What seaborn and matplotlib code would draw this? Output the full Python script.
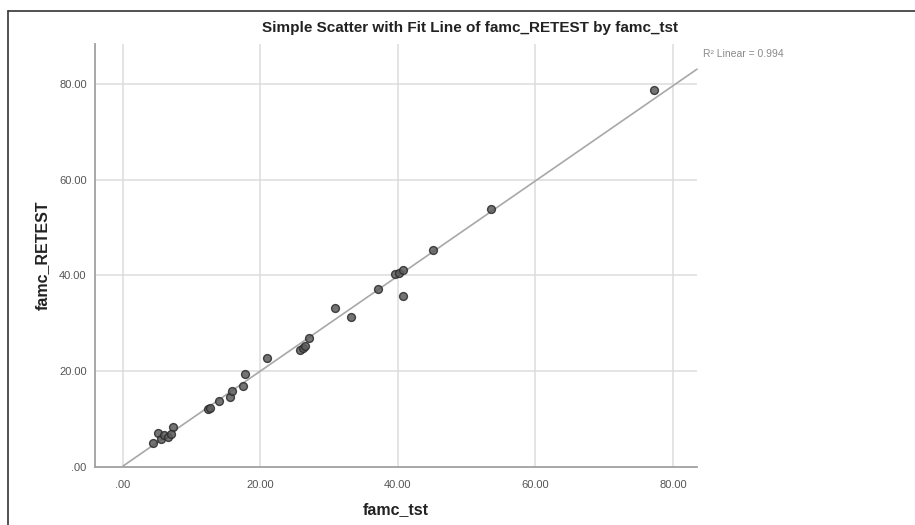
import numpy as np
import pandas as pd
import matplotlib
matplotlib.use("Agg")
import matplotlib.pyplot as plt
import seaborn as sns
from matplotlib.lines import Line2D

famc_tst = [4.4, 5.1, 5.6, 5.9, 6.6, 7.3, 7.0, 12.3, 12.6, 13.9, 15.6, 15.8, 17.5, 17.8,
            20.9, 25.7, 26.2, 26.5, 27.0, 30.8, 33.1, 37.1, 39.6, 40.2, 40.8, 40.7,
            45.1, 53.6, 77.3]
famc_retest = [5.1, 7.0, 5.8, 6.7, 6.3, 8.3, 6.8, 12.1, 12.4, 13.8, 14.6, 15.8, 17.0, 19.4,
               22.7, 24.4, 24.8, 25.2, 26.9, 33.2, 31.4, 37.1, 40.2, 40.6, 41.2, 35.6,
               45.3, 53.8, 78.6]
tick_vals = [0, 20, 40, 60, 80]
tick_labels = [".00", "20.00", "40.00", "60.00", "80.00"]
r2_label = "R\u00b2 Linear = 0.994"

df = pd.DataFrame({"famc_tst": famc_tst, "famc_RETEST": famc_retest})

sns.set_theme(style="white")
plt.rcParams["font.family"] = ["Liberation Sans", "DejaVu Sans"]

W, H = 915, 525
fig = plt.figure(figsize=(W / 100, H / 100), dpi=100)
ax = fig.add_axes([95 / W, 1 - 467 / H, (697 - 95) / W, (467 - 44) / H])

ax.set_xlim(-4.07, 83.5)
ax.set_ylim(0, 88.3)

# grid
for v in tick_vals:
    ax.axvline(v, color="#dcdcdc", lw=1.1, zorder=0)
    if v > 0:
        ax.axhline(v, color="#dcdcdc", lw=1.1, zorder=0)

# fit line
slope, intercept = np.polyfit(df["famc_tst"], df["famc_RETEST"], 1)
xs = np.array([0.0, 83.5])
ax.plot(xs, intercept + slope * xs, color="#a8a8a8", lw=1.2, zorder=1, clip_on=False)

sns.scatterplot(data=df, x="famc_tst", y="famc_RETEST", ax=ax, s=32,
                color="#5c5c5c", edgecolor="#2a2a2a", linewidth=1.0, alpha=0.85, zorder=3)

ax.set_xticks(tick_vals)
ax.set_xticklabels(tick_labels)
ax.set_yticks(tick_vals)
ax.set_yticklabels(tick_labels)
ax.tick_params(axis="both", length=0, labelsize=8, labelcolor="#555555")
ax.tick_params(axis="x", pad=9)
ax.tick_params(axis="y", pad=6)

for s in ["top", "right"]:
    ax.spines[s].set_visible(False)
for s in ["left", "bottom"]:
    ax.spines[s].set_color("#a0a0a0")
    ax.spines[s].set_linewidth(1.3)

ax.set_xlabel("famc_tst", fontsize=11.5, fontweight="bold", color="#222222", labelpad=9)
ax.set_ylabel("famc_RETEST", fontsize=11.5, fontweight="bold", color="#222222", labelpad=7)

fig.text(470 / W, 1 - 28 / H, "Simple Scatter with Fit Line of famc_RETEST by famc_tst",
         ha="center", va="center", fontsize=11, fontweight="bold", color="#222222")
fig.text(703 / W, 1 - 54 / H, r2_label, ha="left", va="center", fontsize=7.5, color="#8a8a8a")

# outer frame lines
fig.add_artist(Line2D([8 / W, 1.0], [1 - 11 / H, 1 - 11 / H], color="#333333", lw=1.2))
fig.add_artist(Line2D([8 / W, 8 / W], [0.0, 1 - 11 / H], color="#333333", lw=1.2))

fig.savefig("out.png", dpi=100)
